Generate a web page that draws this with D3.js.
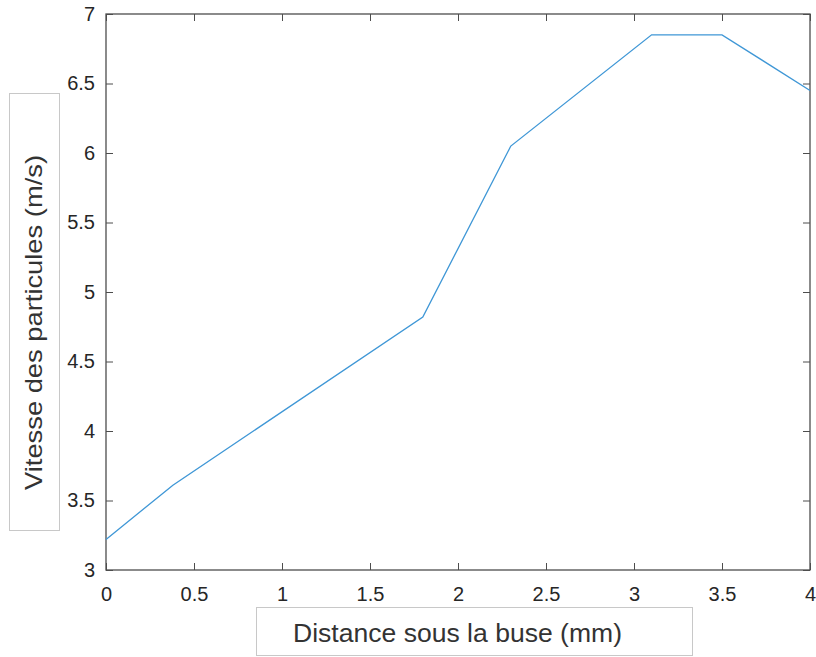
<!DOCTYPE html>
<html><head><meta charset="utf-8">
<script src="https://cdn.jsdelivr.net/npm/d3@7"></script>
<style>body{margin:0;background:#fff}svg{display:block}</style>
</head><body>
<script>
const distance = [0, 0.38, 1.8, 2.3, 3.1, 3.5, 4];
const vitesse = [3.22, 3.61, 4.82, 6.05, 6.85, 6.85, 6.45];
const xTicks = [0, 0.5, 1, 1.5, 2, 2.5, 3, 3.5, 4];
const yTicks = [3, 3.5, 4, 4.5, 5, 5.5, 6, 6.5, 7];
const xLabel = "Distance sous la buse (mm)";
const yLabel = "Vitesse des particules (m/s)";

const W = 816, H = 657;
const m = {left: 106, right: 810, top: 14, bottom: 570};
const svg = d3.select("body").append("svg").attr("width", W).attr("height", H);
const x = d3.scaleLinear().domain([0, 4]).range([m.left, m.right]);
const y = d3.scaleLinear().domain([3, 7]).range([m.bottom, m.top]);
const font = "Arial, 'Liberation Sans', sans-serif";
const axisCol = "#4d4d4d";

function styleAxis(g, showText){
  g.select(".domain").remove();
  g.selectAll("line").attr("stroke", axisCol);
  g.selectAll("text").attr("fill", "#262626").style("font-family", font).style("font-size", "20px");
  if(!showText) g.selectAll("text").remove();
}
const fmt = d3.format("");
svg.append("g").attr("transform", `translate(0,${m.bottom})`)
  .call(d3.axisBottom(x).tickValues(xTicks).tickFormat(fmt).tickSizeInner(-7).tickSizeOuter(0).tickPadding(17))
  .call(g => styleAxis(g, true));
svg.append("g").attr("transform", `translate(0,${m.top})`)
  .call(d3.axisTop(x).tickValues(xTicks).tickSizeInner(-7).tickSizeOuter(0))
  .call(g => styleAxis(g, false));
svg.append("g").attr("transform", `translate(${m.left},0)`)
  .call(d3.axisLeft(y).tickValues(yTicks).tickFormat(fmt).tickSizeInner(-7).tickSizeOuter(0).tickPadding(11))
  .call(g => styleAxis(g, true));
svg.append("g").attr("transform", `translate(${m.right},0)`)
  .call(d3.axisRight(y).tickValues(yTicks).tickSizeInner(-7).tickSizeOuter(0))
  .call(g => styleAxis(g, false));

svg.append("rect").attr("x", m.left).attr("y", m.top)
  .attr("width", m.right - m.left).attr("height", m.bottom - m.top)
  .attr("fill", "none").attr("stroke", axisCol).attr("stroke-width", 1.3);

const pts = distance.map((d, i) => [d, vitesse[i]]);
svg.append("path").datum(pts)
  .attr("fill", "none").attr("stroke", "#3f97d6").attr("stroke-width", 1.3)
  .attr("d", d3.line().x(d => x(d[0])).y(d => y(d[1])));

// label boxes
svg.append("rect").attr("x", 256.5).attr("y", 607.5).attr("width", 436).attr("height", 48)
  .attr("fill", "none").attr("stroke", "#c8c8c8");
svg.append("text").attr("x", 293).attr("y", 642)
  .attr("textLength", 329).attr("lengthAdjust", "spacingAndGlyphs")
  .style("font-family", font).style("font-size", "25px").attr("fill", "#333")
  .text(xLabel);

svg.append("rect").attr("x", 9.5).attr("y", 93.5).attr("width", 50).attr("height", 437)
  .attr("fill", "none").attr("stroke", "#c8c8c8");
svg.append("text").attr("transform", "translate(42,490) rotate(-90)")
  .attr("textLength", 335).attr("lengthAdjust", "spacingAndGlyphs")
  .style("font-family", font).style("font-size", "24px").attr("fill", "#333")
  .text(yLabel);
</script>
</body></html>
